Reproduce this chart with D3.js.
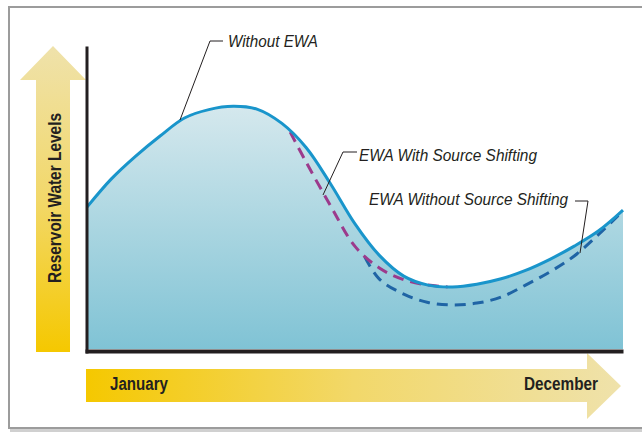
<!DOCTYPE html>
<html>
<head>
<meta charset="utf-8">
<script src="https://cdn.jsdelivr.net/npm/d3@7/dist/d3.min.js"></script>
<style>
  html, body { margin: 0; padding: 0; background: #ffffff; }
  svg { display: block; }
</style>
</head>
<body>
<svg id="chart" width="642" height="435"></svg>
<script>
// Months (1 = January ... 12 = December), sampled every half month
const months = [1, 1.5, 2, 2.5, 3, 3.5, 4, 4.5, 5, 5.5, 6, 6.5, 7, 7.5, 8, 8.5, 9, 9.5, 10, 10.5, 11, 11.5, 12];
// Relative reservoir water level, without EWA
const withoutEWA = [47.3, 56.7, 64.3, 71, 77, 79.8, 80.9, 79.9, 75.2, 67.1, 55, 41.7, 31.2, 24.3, 21.3, 20.7, 21.6, 23.4, 26.2, 29.9, 34.3, 39.4, 46.3];

// EWA with source shifting (leaves the main curve in late spring, rejoins it in summer)
const shiftMonths = [5.17, 5.5, 6, 6.5, 7, 7.5, 8, 8.4];
const withShifting = [72.3, 62.2, 47.7, 34.2, 27, 23.1, 21.3, 20.7];

// EWA without source shifting (drops lower through summer, recovers by December)
const noShiftMonths = [6.7, 7, 7.5, 8, 8.5, 9, 9.5, 10, 10.5, 11, 11.5, 12];
const withoutShifting = [30.7, 23.3, 18.3, 15.5, 14.7, 15.3, 17.3, 21.3, 25.7, 31, 38.2, 46];

const axisTitle = "Reservoir Water Levels";
const timeLabels = ["January", "December"];
const seriesLabels = ["Without EWA", "EWA With Source Shifting", "EWA Without Source Shifting"];

const svg = d3.select("#chart");
const defs = svg.append("defs");

const x = d3.scaleLinear().domain([1, 12]).range([87, 623]);
const y = d3.scaleLinear().domain([0, 100]).range([349, 49]);

const boldFont = "'Liberation Sans Narrow', 'Arial Narrow', 'Liberation Sans', Arial, sans-serif";

// Outer frame
svg.append("line").attr("x1", 10).attr("x2", 642).attr("y1", 430.5).attr("y2", 430.5)
  .attr("stroke", "#d0d0d0").attr("stroke-width", 3);
svg.append("rect").attr("x", 9).attr("y", 7).attr("width", 660).attr("height", 421)
  .attr("fill", "none").attr("stroke", "#9c9c9c").attr("stroke-width", 2);

// Gradients
const fillGrad = defs.append("linearGradient").attr("id", "waterFill")
  .attr("gradientUnits", "userSpaceOnUse").attr("x1", 0).attr("x2", 0).attr("y1", 100).attr("y2", 349);
fillGrad.append("stop").attr("offset", 0).attr("stop-color", "#d7e9ee");
fillGrad.append("stop").attr("offset", 0.5).attr("stop-color", "#abd6e1");
fillGrad.append("stop").attr("offset", 1).attr("stop-color", "#80c3d5");

const upGrad = defs.append("linearGradient").attr("id", "upArrow")
  .attr("gradientUnits", "userSpaceOnUse").attr("x1", 0).attr("x2", 0).attr("y1", 46).attr("y2", 352);
upGrad.append("stop").attr("offset", 0).attr("stop-color", "#efe2ab");
upGrad.append("stop").attr("offset", 0.5).attr("stop-color", "#f2d86a");
upGrad.append("stop").attr("offset", 1).attr("stop-color", "#f5c800");

const rightGrad = defs.append("linearGradient").attr("id", "rightArrow")
  .attr("gradientUnits", "userSpaceOnUse").attr("x1", 86).attr("x2", 621).attr("y1", 0).attr("y2", 0);
rightGrad.append("stop").attr("offset", 0).attr("stop-color", "#f5c800");
rightGrad.append("stop").attr("offset", 0.5).attr("stop-color", "#f2d86a");
rightGrad.append("stop").attr("offset", 1).attr("stop-color", "#efe2ab");

// Vertical arrow (water level)
svg.append("path")
  .attr("d", "M53,46 L86,80 L70,80 L70,352 L36,352 L36,80 L20,80 Z")
  .attr("fill", "url(#upArrow)");
svg.append("text")
  .attr("transform", "translate(61,198) rotate(-90)")
  .attr("text-anchor", "middle")
  .attr("font-family", boldFont).attr("font-weight", "bold").attr("font-size", 18)
  .attr("fill", "#231f20")
  .attr("textLength", 170).attr("lengthAdjust", "spacingAndGlyphs")
  .text(axisTitle);

// Horizontal arrow (time of year)
svg.append("path")
  .attr("d", "M86,369 L587,369 L587,353 L621,386 L587,419 L587,402 L86,402 Z")
  .attr("fill", "url(#rightArrow)");
svg.append("text").attr("x", 110).attr("y", 390)
  .attr("font-family", boldFont).attr("font-weight", "bold").attr("font-size", 18)
  .attr("fill", "#231f20")
  .attr("textLength", 58).attr("lengthAdjust", "spacingAndGlyphs")
  .text(timeLabels[0]);
svg.append("text").attr("x", 524).attr("y", 390)
  .attr("font-family", boldFont).attr("font-weight", "bold").attr("font-size", 18)
  .attr("fill", "#231f20")
  .attr("textLength", 74).attr("lengthAdjust", "spacingAndGlyphs")
  .text(timeLabels[1]);

// Filled water area and curves
const curve = d3.curveCatmullRom.alpha(0.5);
const mainData = months.map((m, i) => [m, withoutEWA[i]]);

svg.append("path")
  .datum(mainData)
  .attr("fill", "url(#waterFill)")
  .attr("d", d3.area().curve(curve).x(d => x(d[0])).y0(y(0)).y1(d => y(d[1])));

const line = d3.line().curve(curve).x(d => x(d[0])).y(d => y(d[1]));

svg.append("path")
  .datum(noShiftMonths.map((m, i) => [m, withoutShifting[i]]))
  .attr("fill", "none").attr("stroke", "#1f64a5").attr("stroke-width", 3)
  .attr("stroke-dasharray", "11,7")
  .attr("d", line);

svg.append("path")
  .datum(shiftMonths.map((m, i) => [m, withShifting[i]]))
  .attr("fill", "none").attr("stroke", "#9c3a8c").attr("stroke-width", 3)
  .attr("stroke-dasharray", "11,7")
  .attr("d", line);

svg.append("path")
  .datum(mainData)
  .attr("fill", "none").attr("stroke", "#1995cb").attr("stroke-width", 3)
  .attr("d", line);

// Axes (plain lines, no ticks)
svg.append("g").attr("transform", "translate(86.5,0)")
  .call(d3.axisLeft(d3.scaleLinear().domain([0, 100]).range([353, 46])).ticks(0).tickSizeOuter(0))
  .call(g => g.select(".domain").attr("stroke", "#231f20").attr("stroke-width", 3));
svg.append("g").attr("transform", "translate(0,351)")
  .call(d3.axisBottom(d3.scaleLinear().domain([1, 12]).range([85, 623])).ticks(0).tickSizeOuter(0))
  .call(g => g.select(".domain").attr("stroke", "#231f20").attr("stroke-width", 4));

// Series annotations with leader lines
const italicFont = "'Liberation Sans Narrow', 'Arial Narrow', 'Liberation Sans', Arial, sans-serif";
const notes = [
  { text: seriesLabels[0], tx: 228, ty: 47, len: 90, pts: [[223, 41], [210, 41], [180, 120]] },
  { text: seriesLabels[1], tx: 359, ty: 161, len: 178, pts: [[357, 152], [343, 152], [323, 195]] },
  { text: seriesLabels[2], tx: 369, ty: 205, len: 199, pts: [[575, 201], [588, 201], [580, 253]] }
];
notes.forEach(n => {
  svg.append("path")
    .attr("d", d3.line()(n.pts))
    .attr("fill", "none").attr("stroke", "#231f20").attr("stroke-width", 1);
  svg.append("text").attr("x", n.tx).attr("y", n.ty)
    .attr("font-family", italicFont).attr("font-style", "italic").attr("font-size", 17)
    .attr("fill", "#231f20")
    .attr("textLength", n.len).attr("lengthAdjust", "spacingAndGlyphs")
    .text(n.text);
});
</script>
</body>
</html>
